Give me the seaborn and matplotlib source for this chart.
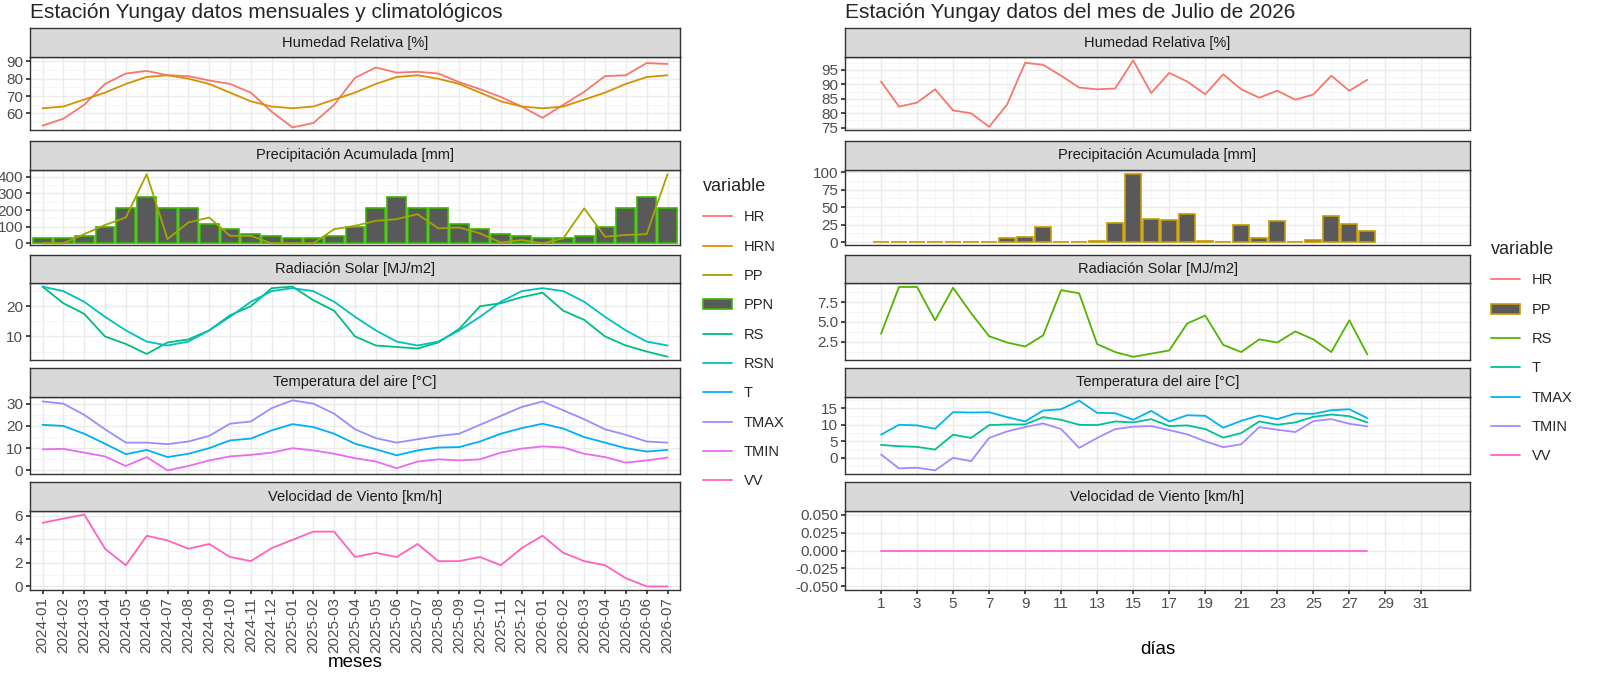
import matplotlib
matplotlib.use("Agg")
import matplotlib.pyplot as plt
import numpy as np
import pandas as pd
import seaborn as sns
from matplotlib.lines import Line2D
from matplotlib.patches import Patch

# --- monthly data (left) ---
months = [f"{y}-{m:02d}" for y in (2024, 2025, 2026) for m in range(1, 13)][:31]
hr = [53, 57, 65, 77, 83, 84.5, 82, 81.5, 79, 77, 72, 61, 52, 54.5, 65, 80.5, 86.5, 83.5, 84, 83, 78, 74,
      69.5, 64, 57.5, 65, 72.5, 81.5, 82, 89, 88.5]
hrn = [63, 64, 68, 72, 77, 81, 82, 80, 77, 72, 67, 64, 63, 64, 68, 72, 77, 81, 82, 80, 77, 72, 67, 64,
       63, 64, 68, 72, 77, 81, 82]
ppn = [30, 30, 45, 100, 210, 280, 210, 210, 115, 85, 55, 45, 30, 30, 45, 100, 210, 280, 210, 210, 115, 85,
       55, 45, 30, 30, 45, 100, 210, 280, 210]
pp = [0, 0, 55, 110, 155, 415, 25, 125, 155, 45, 45, 0, 0, 0, 85, 105, 135, 145, 175, 90, 95, 60, 5, 20,
      0, 30, 210, 40, 50, 55, 415]
rs = [26.5, 21, 17.5, 10, 7.5, 4.2, 8, 9, 12, 17, 20, 26, 26.5, 22, 18.5, 10, 7, 6.5, 6, 8, 12.5, 20, 21,
      23, 24.5, 18.5, 15.5, 10, 7, 5, 3.3]
rsn = [26.5, 25, 21.5, 16.5, 12, 8.3, 7, 8.3, 12, 16.5, 21.5, 25, 26, 25, 21.5, 16.5, 12, 8.3, 7, 8.3, 12,
       16.5, 21.5, 25, 26, 25, 21.5, 16.5, 12, 8.3, 7]
tmax = [31, 30, 25, 18.5, 12.5, 12.5, 11.8, 13, 15.5, 21, 22, 28, 31.5, 30, 25.5, 18.5, 14.5, 12.5, 14,
        15.5, 16.5, 20.5, 24.5, 28.5, 31, 27, 23, 18.5, 16, 13, 12.5]
t = [20.5, 20, 16.5, 12, 7.3, 9.2, 6, 7.5, 10, 13.5, 14.3, 18, 20.8, 19.5, 16.5, 12, 9.5, 6.8, 9, 10.3,
     10.5, 13, 16.5, 19, 21, 18.8, 15, 12.5, 10, 8.5, 9.2]
tmin = [9.5, 9.7, 8, 6.3, 2, 6, 0, 2, 4.5, 6.3, 7, 8, 10, 9, 7.5, 5.5, 4, 1, 4, 5, 4.5, 5, 8, 9.8, 10.8,
        10.3, 7.5, 6, 3.5, 4.5, 5.8]
vv = [5.4, 5.75, 6.1, 3.2, 1.8, 4.3, 3.9, 3.2, 3.6, 2.5, 2.15, 3.25, 3.95, 4.65, 4.65, 2.5, 2.85, 2.5, 3.6,
      2.15, 2.15, 2.5, 1.8, 3.25, 4.3, 2.85, 2.15, 1.8, 0.7, 0, 0]

# --- daily data (right) ---
days = list(range(1, 29))
d_hr = [91, 82.3, 83.7, 88.3, 81, 80, 75.3, 83, 97.5, 96.8, 93, 88.9, 88.3, 88.6, 98.3, 87, 94, 91, 86.6,
        93.5, 88.3, 85.4, 87.8, 84.7, 86.5, 93, 87.8, 91.6]
d_pp = [0, 0, 0, 0, 0, 0, 0.5, 6, 7, 22, 0, 0, 1, 27, 98, 33, 31, 40, 2, 0, 25, 6, 30, 0, 3, 38, 26, 16]
d_rs = [3.5, 9.4, 9.4, 5.2, 9.3, 6.1, 3.2, 2.4, 1.9, 3.3, 9, 8.6, 2.2, 1.2, 0.6, 1, 1.4, 4.8, 5.8, 2.1,
        1.2, 2.8, 2.4, 3.8, 2.8, 1.2, 5.2, 0.9]
d_tmax = [7, 10, 9.8, 8.8, 13.8, 13.7, 13.8, 12.3, 11, 14.3, 14.7, 17.3, 13.6, 13.5, 11.5, 14.2, 11, 12.9,
          12.7, 9.1, 11.2, 12.8, 11.7, 13.4, 13.3, 14.4, 14.7, 12]
d_t = [3.9, 3.5, 3.3, 2.5, 7, 6, 9.9, 10.1, 10.1, 12.3, 11.5, 10, 9.9, 11, 10.7, 11.7, 9.6, 9.8, 8.7, 6.1,
       7.5, 11, 10, 10.7, 12.4, 13.1, 12.6, 10.7]
d_tmin = [1, -3.2, -3, -3.8, 0, -1, 6, 8, 9.3, 10.4, 8.7, 3, 6, 8.7, 9.4, 9.6, 8.4, 7.1, 5, 3.2, 4.1, 9.3,
          8.5, 7.8, 11.1, 11.7, 10.3, 9.5]
d_vv = [0] * 28

panel_titles = ["Humedad Relativa [%]", "Precipitación Acumulada [mm]", "Radiación Solar [MJ/m2]",
                "Temperatura del aire [°C]", "Velocidad de Viento [km/h]"]

left_cols = dict(zip(["HR", "HRN", "PP", "PPN", "RS", "RSN", "T", "TMAX", "TMIN", "VV"],
                     ["#F8766D", "#D89000", "#A3A500", "#39B600", "#00BF7D", "#00BFC4", "#00B0F6",
                      "#9590FF", "#E76BF3", "#FF62BC"]))
right_cols = dict(zip(["HR", "PP", "RS", "T", "TMAX", "TMIN", "VV"],
                      ["#F8766D", "#C49A00", "#53B400", "#00C094", "#00B6EB", "#A58AFF", "#FB61D7"]))

sns.set_theme(style="white")
plt.rcParams["font.family"] = ["Liberation Sans", "DejaVu Sans"]

W, H = 1600, 676
fig = plt.figure(figsize=(16, 6.76), dpi=100)

# panel rows in pixels: (strip top, panel top, panel bottom)
rows = [(28, 57, 130), (141, 170, 245), (255, 283, 360), (368, 397, 474), (482, 511, 590)]


def make_axes(x0, x1, r):
    st, pt, pb = r
    ax = fig.add_axes([x0 / W, 1 - pb / H, (x1 - x0) / W, (pb - pt) / H])
    sax = fig.add_axes([x0 / W, 1 - pt / H, (x1 - x0) / W, (pt - st) / H])
    return ax, sax


def style(ax, sax, title):
    ax.set_facecolor("white")
    ax.grid(True, which="major", color="#EBEBEB", lw=1.0)
    ax.grid(True, which="minor", color="#F4F4F4", lw=0.6)
    ax.set_axisbelow(True)
    for s in ax.spines.values():
        s.set_color("#333333")
        s.set_linewidth(1.0)
    ax.tick_params(axis="both", length=3, color="#333333", labelsize=11, labelcolor="#4D4D4D",
                   bottom=True, left=True, pad=2)
    ax.set_xlabel("")
    ax.set_ylabel("")
    sax.set_facecolor("#D9D9D9")
    sax.set_xticks([])
    sax.set_yticks([])
    for s in sax.spines.values():
        s.set_color("#333333")
        s.set_linewidth(1.0)
    sax.text(0.5, 0.5, title, ha="center", va="center", fontsize=10.5, color="#1A1A1A",
             transform=sax.transAxes)
    if ax.get_legend():
        ax.get_legend().remove()


def line(ax, x, y, c):
    sns.lineplot(x=x, y=y, color=c, lw=1.3, ax=ax)


# ---------------- left group ----------------
xm = np.arange(len(months))
axesL = []
for i, r in enumerate(rows):
    ax, sax = make_axes(30, 680, r)
    axesL.append((ax, sax))

ax = axesL[0][0]
line(ax, xm, hr, left_cols["HR"]); line(ax, xm, hrn, left_cols["HRN"])
ax.set_yticks([60, 70, 80, 90]); ax.set_ylim(50.5, 92.5)
ax = axesL[1][0]
sns.barplot(x=xm, y=ppn, native_scale=True, color="#595959", edgecolor=left_cols["PPN"], linewidth=1.2,
            width=0.9, saturation=1, ax=ax)
line(ax, xm, pp, left_cols["PP"])
ax.set_yticks([0, 100, 200, 300, 400]); ax.set_ylim(-10, 440)
ax = axesL[2][0]
line(ax, xm, rs, left_cols["RS"]); line(ax, xm, rsn, left_cols["RSN"])
ax.set_yticks([10, 20]); ax.set_ylim(2.2, 27.7)
ax.set_yticks([5, 15, 25], minor=True)
ax = axesL[3][0]
line(ax, xm, t, left_cols["T"]); line(ax, xm, tmax, left_cols["TMAX"]); line(ax, xm, tmin, left_cols["TMIN"])
ax.set_yticks([0, 10, 20, 30]); ax.set_ylim(-1.6, 33)
ax = axesL[4][0]
line(ax, xm, vv, left_cols["VV"])
ax.set_yticks([0, 2, 4, 6]); ax.set_ylim(-0.3, 6.4)

for i, (ax, sax) in enumerate(axesL):
    ax.set_xlim(-0.6, len(months) - 0.4)
    ax.set_xticks(xm)
    if i == 4:
        ax.set_yticks([1, 3, 5], minor=True)
    elif i == 0:
        ax.set_yticks([55, 65, 75, 85], minor=True)
    elif i == 1:
        ax.set_yticks([50, 150, 250, 350], minor=True)
    elif i == 3:
        ax.set_yticks([5, 15, 25], minor=True)
    style(ax, sax, panel_titles[i])
    if i < 4:
        ax.set_xticklabels([])
        ax.tick_params(axis="x", length=0)
    else:
        ax.set_xticklabels(months, rotation=90)
        ax.set_xlabel("meses", fontsize=13.5, color="black", labelpad=1)
    ax.tick_params(axis="y", which="minor", length=0)

fig.text(30 / W, 1 - 12 / H, "Estación Yungay datos mensuales y climatológicos", fontsize=15, va="center")

handles = []
for k, c in left_cols.items():
    if k == "PPN":
        handles.append(Patch(facecolor="#595959", edgecolor=c, lw=1.2))
    else:
        handles.append(Line2D([], [], color=c, lw=1.3))
fig.legend(handles, list(left_cols), title="variable", loc="upper left", bbox_to_anchor=(690 / W, 1 - 165 / H),
           frameon=False, fontsize=10.5, title_fontsize=13, handlelength=2.0, labelspacing=1.05,
           alignment="left")

# ---------------- right group ----------------
xd = np.array(days)
axesR = []
for i, r in enumerate(rows):
    ax, sax = make_axes(845, 1470, r)
    axesR.append((ax, sax))

ax = axesR[0][0]
line(ax, xd, d_hr, right_cols["HR"])
ax.set_yticks([75, 80, 85, 90, 95]); ax.set_ylim(74.2, 99.5)
ax.set_yticks([77.5, 82.5, 87.5, 92.5, 97.5], minor=True)
ax = axesR[1][0]
sns.barplot(x=xd, y=d_pp, native_scale=True, color="#595959", edgecolor=right_cols["PP"], linewidth=1.2,
            width=0.9, saturation=1, ax=ax)
ax.set_yticks([0, 25, 50, 75, 100]); ax.set_ylim(-4, 103)
ax.set_yticks([12.5, 37.5, 62.5, 87.5], minor=True)
ax = axesR[2][0]
line(ax, xd, d_rs, right_cols["RS"])
ax.set_yticks([2.5, 5.0, 7.5]); ax.set_ylim(0.2, 9.9)
ax.set_yticks([1.25, 3.75, 6.25, 8.75], minor=True)
ax = axesR[3][0]
line(ax, xd, d_t, right_cols["T"]); line(ax, xd, d_tmax, right_cols["TMAX"]); line(ax, xd, d_tmin, right_cols["TMIN"])
ax.set_yticks([0, 5, 10, 15]); ax.set_ylim(-4.9, 18.4)
ax.set_yticks([-2.5, 2.5, 7.5, 12.5, 17.5], minor=True)
ax = axesR[4][0]
line(ax, xd, d_vv, right_cols["VV"])
ax.set_yticks([-0.05, -0.025, 0, 0.025, 0.05]); ax.set_ylim(-0.055, 0.055)
ax.set_yticklabels(["-0.050", "-0.025", "0.000", "0.025", "0.050"])

for i, (ax, sax) in enumerate(axesR):
    ax.set_xlim(-1, 33.7)
    ax.set_xticks(np.arange(1, 32, 2))
    ax.set_xticks(np.arange(0, 34, 2), minor=True)
    style(ax, sax, panel_titles[i])
    if i < 4:
        ax.set_xticklabels([])
        ax.tick_params(axis="x", length=0)
    else:
        ax.set_xticklabels([str(v) for v in range(1, 32, 2)])
        ax.set_xlabel("días", fontsize=13.5, color="black", labelpad=22)
    ax.tick_params(axis="both", which="minor", length=0)

fig.text(845 / W, 1 - 12 / H, "Estación Yungay datos del mes de Julio de 2026", fontsize=15, va="center")

handles = []
for k, c in right_cols.items():
    if k == "PP":
        handles.append(Patch(facecolor="#595959", edgecolor=c, lw=1.2))
    else:
        handles.append(Line2D([], [], color=c, lw=1.3))
fig.legend(handles, list(right_cols), title="variable", loc="upper left", bbox_to_anchor=(1478 / W, 1 - 228 / H),
           frameon=False, fontsize=10.5, title_fontsize=13, handlelength=2.0, labelspacing=1.05,
           alignment="left")

fig.savefig("out.png", dpi=100)
